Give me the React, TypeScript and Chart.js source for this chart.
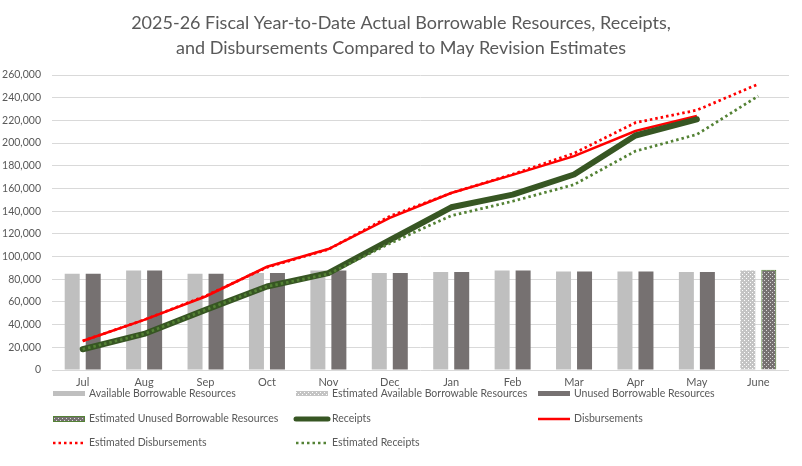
import React, { useEffect, useRef } from 'react';
import { Chart, registerables } from 'chart.js';

Chart.register(...registerables);

const months = ['Jul', 'Aug', 'Sep', 'Oct', 'Nov', 'Dec', 'Jan', 'Feb', 'Mar', 'Apr', 'May', 'June'];

const availableBorrowable = [84800, 87700, 84800, 85400, 87700, 85400, 86300, 87700, 86900, 86900, 86300, null];
const estAvailableBorrowable = [null, null, null, null, null, null, null, null, null, null, null, 87700];
const unusedBorrowable = [84800, 87700, 84800, 85400, 87700, 85400, 86300, 87700, 86900, 86900, 86300, null];
const estUnusedBorrowable = [null, null, null, null, null, null, null, null, null, null, null, 88300];
const receipts = [18300, 31800, 53000, 73600, 85400, 114500, 143400, 154600, 172300, 206700, 220900, null];
const disbursements = [25600, 44200, 64800, 91000, 106600, 134000, 156000, 172000, 188500, 210600, 223800, null];
const estDisbursements = [25600, 44200, 65300, 90500, 106300, 135500, 156000, 172500, 191000, 218000, 229000, 252000];
const estReceipts = [18300, 31800, 53000, 73600, 84600, 111500, 136000, 148700, 163400, 192900, 207600, 241500];

const yMax = 260000;
const yStep = 20000;

const titleLines = [
  '2025-26 Fiscal Year-to-Date Actual Borrowable Resources, Receipts,',
  'and Disbursements Compared to May Revision Estimates',
];

const legendLabels = [
  'Available Borrowable Resources',
  'Estimated Available Borrowable Resources',
  'Unused Borrowable Resources',
  'Estimated Unused Borrowable Resources',
  'Receipts',
  'Disbursements',
  'Estimated Disbursements',
  'Estimated Receipts',
];

const FONT = 'Lato, "Liberation Sans", sans-serif';
const TEXT = '#595959';

function makePattern(bg: string, fg: string): CanvasPattern | string {
  const c = document.createElement('canvas');
  c.width = 4;
  c.height = 4;
  const x = c.getContext('2d');
  if (!x) return bg;
  x.fillStyle = bg;
  x.fillRect(0, 0, 4, 4);
  x.fillStyle = fg;
  x.fillRect(0, 0, 1, 1);
  x.fillRect(2, 2, 1, 1);
  const p = x.createPattern(c, 'repeat');
  return p || bg;
}

export default function App() {
  const ref = useRef<HTMLCanvasElement | null>(null);

  useEffect(() => {
    const canvas = ref.current;
    if (!canvas) return;
    const estAvailPattern = makePattern('#c4c4c4', '#ffffff');
    const estUnusedPattern = makePattern('#767171', '#d9d9d9');

    const legendPlugin = {
      id: 'customLegendTitle',
      afterDraw(chart: any) {
        const ctx = chart.ctx as CanvasRenderingContext2D;
        ctx.save();
        // title
        ctx.fillStyle = TEXT;
        ctx.font = `18px ${FONT}`;
        ctx.textAlign = 'center';
        ctx.textBaseline = 'alphabetic';
        ctx.fillText(titleLines[0], chart.width / 2, 29);
        ctx.fillText(titleLines[1], chart.width / 2, 54);

        // legend
        const cols = [53, 296, 538];
        const rows = [394, 419, 443];
        const slots = [
          [0, 0], [1, 0], [2, 0],
          [0, 1], [1, 1], [2, 1],
          [0, 2], [1, 2],
        ];
        const kinds = ['avail', 'estAvail', 'unused', 'estUnused', 'receipts', 'disb', 'estDisb', 'estRec'];
        ctx.font = `10.5px ${FONT}`;
        ctx.textAlign = 'left';
        ctx.textBaseline = 'middle';
        slots.forEach(([ci, ri], i) => {
          const x = cols[ci];
          const y = rows[ri];
          const k = kinds[i];
          ctx.save();
          if (k === 'avail') {
            ctx.fillStyle = '#bfbfbf';
            ctx.fillRect(x, y - 3, 32, 5);
          } else if (k === 'unused') {
            ctx.fillStyle = '#767171';
            ctx.fillRect(x, y - 3, 32, 5);
          } else if (k === 'estAvail') {
            ctx.fillStyle = estAvailPattern as any;
            ctx.fillRect(x, y - 3, 32, 5);
          } else if (k === 'estUnused') {
            ctx.fillStyle = estUnusedPattern as any;
            ctx.fillRect(x, y - 3, 32, 6);
            ctx.strokeStyle = '#548235';
            ctx.lineWidth = 1;
            ctx.strokeRect(x + 0.5, y - 2.5, 31, 5);
          } else {
            ctx.beginPath();
            ctx.moveTo(x, y);
            ctx.lineTo(x + 32, y);
            if (k === 'receipts') {
              ctx.strokeStyle = '#375623';
              ctx.lineWidth = 5;
              ctx.lineCap = 'round';
            } else if (k === 'disb') {
              ctx.strokeStyle = '#ff0000';
              ctx.lineWidth = 2.5;
            } else if (k === 'estDisb') {
              ctx.strokeStyle = '#ff0000';
              ctx.lineWidth = 2.5;
              ctx.setLineDash([2.5, 3]);
            } else {
              ctx.strokeStyle = '#548235';
              ctx.lineWidth = 2.5;
              ctx.setLineDash([2.5, 3]);
            }
            ctx.stroke();
          }
          ctx.restore();
          ctx.fillStyle = TEXT;
          ctx.fillText(legendLabels[i], x + 36, y);
        });
        ctx.restore();
      },
    };

    const chart = new Chart(canvas, {
      type: 'bar',
      data: {
        labels: months,
        datasets: [
          {
            type: 'bar',
            label: legendLabels[0],
            data: availableBorrowable,
            backgroundColor: '#bfbfbf',
            order: 10,
            skipNull: true,
          } as any,
          {
            type: 'bar',
            label: legendLabels[1],
            data: estAvailableBorrowable,
            backgroundColor: estAvailPattern,
            order: 11,
            skipNull: true,
          } as any,
          {
            type: 'bar',
            label: legendLabels[2],
            data: unusedBorrowable,
            backgroundColor: '#767171',
            order: 12,
            skipNull: true,
          } as any,
          {
            type: 'bar',
            label: legendLabels[3],
            data: estUnusedBorrowable,
            backgroundColor: estUnusedPattern,
            borderColor: '#548235',
            borderWidth: 1,
            order: 13,
            skipNull: true,
          } as any,
          {
            type: 'line',
            label: legendLabels[4],
            data: receipts,
            borderColor: '#375623',
            borderWidth: 6,
            borderCapStyle: 'round',
            borderJoinStyle: 'round',
            pointRadius: 0,
            tension: 0,
            order: 2,
          } as any,
          {
            type: 'line',
            label: legendLabels[5],
            data: disbursements,
            borderColor: '#ff0000',
            borderWidth: 2.5,
            pointRadius: 0,
            tension: 0,
            order: 3,
          } as any,
          {
            type: 'line',
            label: legendLabels[6],
            data: estDisbursements,
            borderColor: '#ff0000',
            borderWidth: 2.75,
            borderDash: [2.5, 3],
            pointRadius: 0,
            tension: 0,
            order: 0,
          } as any,
          {
            type: 'line',
            label: legendLabels[7],
            data: estReceipts,
            borderColor: '#548235',
            borderWidth: 2.75,
            borderDash: [2.5, 3],
            pointRadius: 0,
            tension: 0,
            order: 1,
          } as any,
        ],
      },
      options: {
        responsive: false,
        animation: false,
        events: [],
        layout: { padding: { top: 75, right: 13, left: 0, bottom: 0 } },
        datasets: {
          bar: { barPercentage: 0.714, categoryPercentage: 0.684 },
        } as any,
        plugins: {
          legend: { display: false },
          title: { display: false },
          tooltip: { enabled: false },
        },
        scales: {
          x: {
            grid: { display: false, drawTicks: false },
            border: { display: false },
            ticks: {
              color: TEXT,
              font: { family: FONT, size: 11 },
              padding: 6,
              maxRotation: 0,
              autoSkip: false,
            },
            afterFit(scale: any) {
              scale.height = 96;
            },
          },
          y: {
            min: 0,
            max: yMax,
            grid: { color: '#d9d9d9', lineWidth: 1, drawTicks: false },
            border: { display: false },
            ticks: {
              stepSize: yStep,
              color: TEXT,
              font: { family: FONT, size: 10.5 },
              padding: 11,
              callback: (v: any) => Number(v).toLocaleString('en-US'),
            },
            afterFit(scale: any) {
              scale.width = 52;
            },
          },
        },
      },
      plugins: [legendPlugin],
    } as any);

    return () => {
      chart.destroy();
    };
  }, []);

  return (
    <div style={{ position: 'fixed', left: 0, top: 0, width: 802, height: 466, background: '#fff' }}>
      <canvas ref={ref} width={802} height={466} style={{ display: 'block' }} />
    </div>
  );
}
